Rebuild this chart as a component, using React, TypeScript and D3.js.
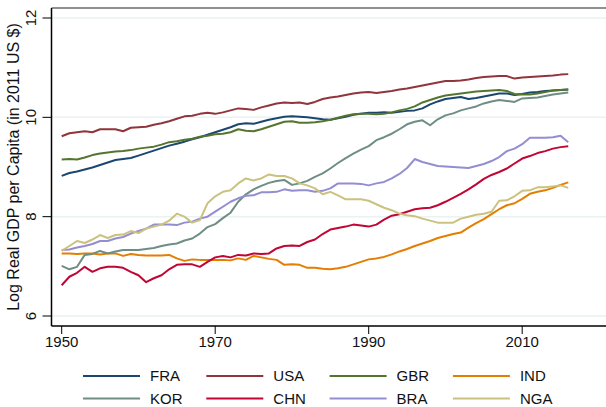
import React from 'react';
import * as d3 from 'd3';

const years = d3.range(1950, 2017);

const fra = [8.82, 8.88, 8.91, 8.95, 8.99, 9.04, 9.09, 9.14, 9.16, 9.18, 9.23, 9.28, 9.33, 9.38, 9.43, 9.47, 9.51, 9.56, 9.60, 9.65, 9.70, 9.75, 9.80, 9.86, 9.88, 9.87, 9.91, 9.95, 9.98, 10.01, 10.02, 10.01, 10.00, 9.98, 9.96, 9.95, 9.98, 10.01, 10.05, 10.07, 10.09, 10.09, 10.10, 10.09, 10.11, 10.13, 10.14, 10.18, 10.26, 10.32, 10.37, 10.39, 10.41, 10.37, 10.39, 10.42, 10.45, 10.48, 10.48, 10.45, 10.47, 10.50, 10.51, 10.53, 10.54, 10.55, 10.56];
const usa = [9.62, 9.68, 9.70, 9.72, 9.70, 9.76, 9.76, 9.76, 9.72, 9.79, 9.80, 9.81, 9.85, 9.88, 9.92, 9.97, 10.02, 10.03, 10.07, 10.09, 10.07, 10.10, 10.14, 10.18, 10.17, 10.15, 10.20, 10.24, 10.28, 10.30, 10.29, 10.30, 10.27, 10.31, 10.37, 10.40, 10.42, 10.45, 10.48, 10.50, 10.51, 10.49, 10.51, 10.53, 10.56, 10.58, 10.61, 10.64, 10.67, 10.70, 10.73, 10.73, 10.74, 10.76, 10.79, 10.81, 10.82, 10.83, 10.83, 10.78, 10.80, 10.81, 10.82, 10.83, 10.84, 10.86, 10.87];
const gbr = [9.15, 9.16, 9.15, 9.19, 9.24, 9.27, 9.29, 9.31, 9.32, 9.34, 9.37, 9.39, 9.41, 9.45, 9.50, 9.52, 9.55, 9.57, 9.61, 9.63, 9.66, 9.67, 9.70, 9.76, 9.73, 9.72, 9.76, 9.81, 9.86, 9.91, 9.92, 9.89, 9.89, 9.90, 9.92, 9.95, 9.99, 10.03, 10.06, 10.07, 10.07, 10.06, 10.07, 10.10, 10.14, 10.17, 10.22, 10.30, 10.35, 10.40, 10.44, 10.46, 10.48, 10.50, 10.52, 10.53, 10.54, 10.55, 10.53, 10.47, 10.46, 10.46, 10.48, 10.51, 10.54, 10.55, 10.56];
const ind = [7.26, 7.26, 7.25, 7.26, 7.26, 7.24, 7.26, 7.26, 7.21, 7.25, 7.23, 7.22, 7.22, 7.22, 7.23, 7.16, 7.11, 7.14, 7.13, 7.13, 7.13, 7.13, 7.12, 7.16, 7.13, 7.21, 7.18, 7.15, 7.13, 7.03, 7.04, 7.03, 6.97, 6.97, 6.95, 6.94, 6.96, 6.99, 7.04, 7.09, 7.14, 7.16, 7.19, 7.24, 7.30, 7.35, 7.41, 7.46, 7.51, 7.57, 7.61, 7.65, 7.68, 7.78, 7.87, 7.95, 8.05, 8.15, 8.23, 8.27, 8.36, 8.46, 8.50, 8.53, 8.58, 8.64, 8.69];
const kor = [7.01, 6.94, 6.99, 7.23, 7.25, 7.31, 7.26, 7.30, 7.33, 7.33, 7.33, 7.35, 7.37, 7.41, 7.44, 7.46, 7.52, 7.56, 7.66, 7.79, 7.85, 7.97, 8.08, 8.30, 8.45, 8.55, 8.62, 8.68, 8.72, 8.74, 8.64, 8.67, 8.72, 8.80, 8.87, 8.97, 9.08, 9.18, 9.27, 9.35, 9.42, 9.54, 9.60, 9.67, 9.76, 9.86, 9.91, 9.94, 9.84, 9.96, 10.04, 10.08, 10.14, 10.18, 10.22, 10.28, 10.32, 10.35, 10.33, 10.31, 10.38, 10.39, 10.40, 10.43, 10.46, 10.48, 10.50];
const chn = [6.62, 6.79, 6.87, 6.99, 6.89, 6.96, 6.99, 6.99, 6.97, 6.89, 6.82, 6.68, 6.76, 6.82, 6.94, 7.03, 7.04, 7.04, 6.99, 7.09, 7.18, 7.21, 7.18, 7.23, 7.22, 7.26, 7.25, 7.26, 7.36, 7.41, 7.42, 7.41, 7.49, 7.54, 7.65, 7.74, 7.77, 7.80, 7.84, 7.82, 7.80, 7.84, 7.94, 8.02, 8.05, 8.10, 8.15, 8.17, 8.18, 8.23, 8.30, 8.38, 8.46, 8.55, 8.65, 8.76, 8.84, 8.90, 8.97, 9.07, 9.17, 9.22, 9.28, 9.32, 9.37, 9.40, 9.42];
const bra = [7.33, 7.34, 7.38, 7.41, 7.45, 7.51, 7.51, 7.56, 7.59, 7.66, 7.71, 7.76, 7.84, 7.84, 7.84, 7.83, 7.88, 7.90, 7.96, 8.00, 8.10, 8.20, 8.30, 8.37, 8.42, 8.43, 8.49, 8.49, 8.50, 8.55, 8.52, 8.53, 8.53, 8.50, 8.52, 8.57, 8.67, 8.67, 8.67, 8.66, 8.63, 8.67, 8.70, 8.77, 8.86, 8.98, 9.16, 9.10, 9.06, 9.02, 9.01, 9.00, 8.99, 8.98, 9.02, 9.06, 9.12, 9.20, 9.32, 9.37, 9.46, 9.59, 9.59, 9.59, 9.60, 9.63, 9.50];
const nga = [7.31, 7.41, 7.51, 7.47, 7.54, 7.63, 7.57, 7.63, 7.64, 7.71, 7.67, 7.76, 7.80, 7.84, 7.92, 8.06, 8.00, 7.88, 7.93, 8.27, 8.41, 8.50, 8.53, 8.67, 8.77, 8.73, 8.77, 8.85, 8.82, 8.82, 8.77, 8.67, 8.63, 8.57, 8.45, 8.50, 8.43, 8.35, 8.35, 8.35, 8.32, 8.25, 8.18, 8.13, 8.06, 8.03, 8.01, 7.96, 7.92, 7.88, 7.88, 7.88, 7.96, 8.00, 8.04, 8.06, 8.10, 8.32, 8.33, 8.41, 8.52, 8.53, 8.59, 8.59, 8.61, 8.63, 8.58];

const countries = ['FRA', 'USA', 'GBR', 'IND', 'KOR', 'CHN', 'BRA', 'NGA'];
const seriesValues = [fra, usa, gbr, ind, kor, chn, bra, nga];
const colors = ['#1a476f', '#90353b', '#55752f', '#e37e00', '#6e8e84', '#c10534', '#938dd2', '#cac27e'];

const xTicks = [1950, 1970, 1990, 2010];
const yTicks = [6, 8, 10, 12];

const W = 606;
const H = 407;
const FONT = '"Liberation Sans", Arial, Helvetica, sans-serif';

export default function App() {
  const left = 51.5;
  const top = 8;
  const bottom = 326;

  const x = d3.scaleLinear().domain([1950, 2010]).range([61.7, 522.2]);
  const y = d3.scaleLinear().domain([6, 12]).range([316, 18]);

  const line = d3
    .line<number>()
    .x((_, i) => x(years[i]))
    .y(d => y(d));

  const paths = seriesValues.map((vals, i) => (
    <path key={countries[i]} d={line(vals) || ''} fill="none" stroke={colors[i]} strokeWidth={2} strokeLinejoin="round" />
  ));

  // legend: 4 columns x 2 rows under the plot
  const legend = countries.map((c, i) => {
    const col = i % 4;
    const row = Math.floor(i / 4);
    const lx = 83 + col * 123.3;
    const ly = 376 + row * 22.5;
    return (
      <g key={c}>
        <line x1={lx} x2={lx + 57} y1={ly} y2={ly} stroke={colors[i]} strokeWidth={2} />
        <text x={lx + 67} y={ly + 5} fontSize={15} fill="#111">{c}</text>
      </g>
    );
  });

  return (
    <div style={{ position: 'absolute', left: 0, top: 0 }}>
      <svg width={W} height={H} style={{ display: 'block', fontFamily: FONT }}>
        <rect width={W} height={H} fill="#fff" />
        {yTicks.map(t => (
          <line key={'g' + t} x1={left} x2={W} y1={y(t)} y2={y(t)} stroke="#eaf2f3" strokeWidth={1.5} />
        ))}
        <line x1={left} x2={W} y1={top} y2={top} stroke="#222" strokeWidth={1.2} />
        {paths}
        <line x1={left} x2={left} y1={top} y2={bottom} stroke="#000" strokeWidth={1.5} />
        <line x1={left} x2={W} y1={bottom} y2={bottom} stroke="#000" strokeWidth={1.5} />
        {yTicks.map(t => (
          <g key={'y' + t}>
            <line x1={left - 9} x2={left} y1={y(t)} y2={y(t)} stroke="#000" strokeWidth={1} />
            <text transform={`translate(36, ${y(t)}) rotate(-90)`} textAnchor="middle" fontSize={15} fill="#111">{t}</text>
          </g>
        ))}
        {xTicks.map(t => (
          <g key={'x' + t}>
            <line x1={x(t)} x2={x(t)} y1={bottom} y2={bottom + 8} stroke="#000" strokeWidth={1} />
            <text x={x(t)} y={347} textAnchor="middle" fontSize={15} fill="#111">{t}</text>
          </g>
        ))}
        <text transform="translate(19, 167) rotate(-90)" textAnchor="middle" fontSize={16} fill="#111">
          Log Real GDP per Capita (in 2011 US $)
        </text>
        {legend}
      </svg>
    </div>
  );
}
